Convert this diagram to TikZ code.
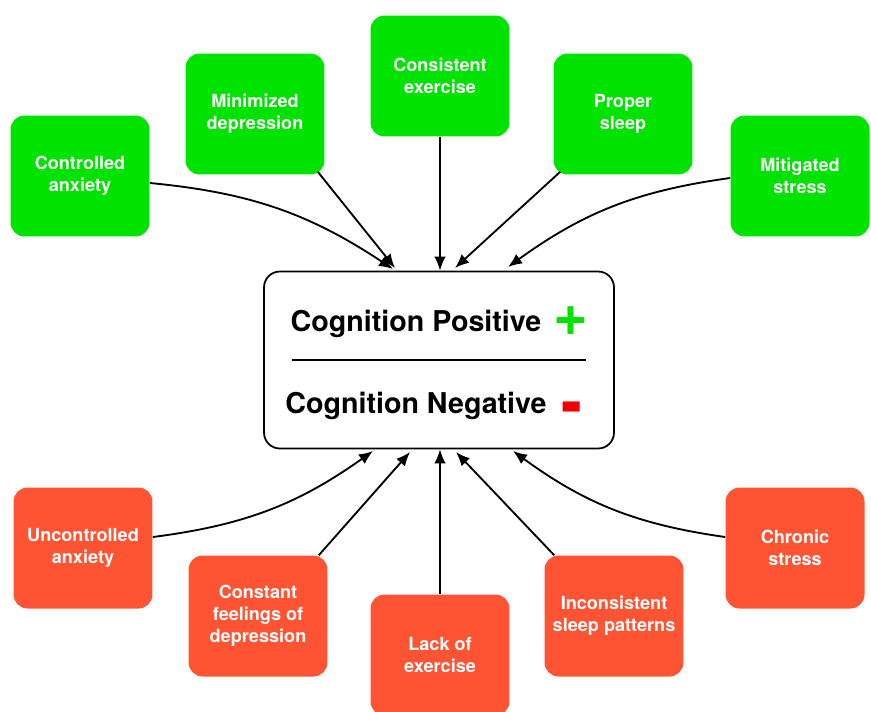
\documentclass[tikz,border=0pt]{standalone}
\usepackage{fontspec}
\setmainfont{TeX Gyre Heros}
\usepackage{xcolor}
\usepackage{graphicx}
\usepackage{tikz}
\usetikzlibrary{arrows.meta}

\definecolor{goodgreen}{RGB}{0,226,0}
\definecolor{badred}{RGB}{255,84,52}
\definecolor{signred}{RGB}{240,0,0}

\begin{document}
\begin{tikzpicture}[x=0.02cm, y=-0.02cm,
        good/.style={rounded corners=8pt, fill=goodgreen, minimum width=2.78cm, minimum height=2.42cm, inner sep=0pt, align=center, text=white, font=\fontsize{10.3}{12.5}\selectfont\bfseries},
        bad/.style={good, fill=badred},
        core/.style={draw, line width=1pt, rounded corners=9pt, minimum width=7.0cm, minimum height=3.54cm},
        headline/.style={font=\fontsize{16.3}{19}\selectfont\bfseries},
        sign/.style={inner sep=0pt, font=\fontsize{34}{34}\selectfont\bfseries},
        flow/.style={-{Latex[length=2.8mm, width=2.3mm]}, line width=1.05pt}
    ]
        \clip (0,0) rectangle (871,711);
        % centre box with its two lines
        \node[core] (cognition) at (439,360) {};
        \node[headline] (positive) at (416,324) {Cognition Positive};
        \node[sign, text=goodgreen] (plus) at (571,321) {+};
        \node[headline] (negative) at (416,406) {Cognition Negative};
        \node[sign, text=signred, anchor=base] (minus) at (572,427) {\scalebox{1.05}[1.25]{-}};
        \draw[line width=1pt] (292,360) -- (586,360);

        % upper row
        \node[good] (canxiety) at (80,176) {Controlled\\anxiety};
        \node[good] (mdepression) at (255,114) {Minimized\\depression};
        \node[good] (cexercise) at (440,76) {Consistent\\exercise};
        \node[good] (psleep) at (623,114) {Proper\\sleep};
        \node[good] (mstress) at (800,176) {Mitigated\\stress};

        % lower row
        \node[bad] (uanxiety) at (83,548) {Uncontrolled\\anxiety};
        \node[bad] (cdepression) at (258,616) {Constant\\feelings of\\depression};
        \node[bad] (lexercise) at (440,655) {Lack of\\exercise};
        \node[bad] (isleep) at (614,616) {Inconsistent\\sleep patterns};
        \node[bad] (cstress) at (795,548) {Chronic\\stress};

        \draw[flow] (canxiety.east |- 0,183) to[bend left=14] (393,269);
        \draw[flow] (mdepression.south east) ++(-7,-3) -- (395,268);
        \draw[flow] (cexercise.south) -- (cexercise.south |- cognition.north);
        \draw[flow] (psleep.south west) ++(7,-3) -- (455,268);
        \draw[flow] (mstress.west |- 0,178) to[bend right=14] (508,267);

        \draw[flow] (uanxiety.east |- 0,537) to[bend right=14] (373,451);
        \draw[flow] (cdepression.north east) ++(-9,0) -- (410,452);
        \draw[flow] (lexercise.north) -- (lexercise.north |- cognition.south);
        \draw[flow] (isleep.north west) ++(10,0) -- (456,452);
        \draw[flow] (cstress.west |- 0,537) to[bend left=14] (513,451);
    \end{tikzpicture}
\end{document}
